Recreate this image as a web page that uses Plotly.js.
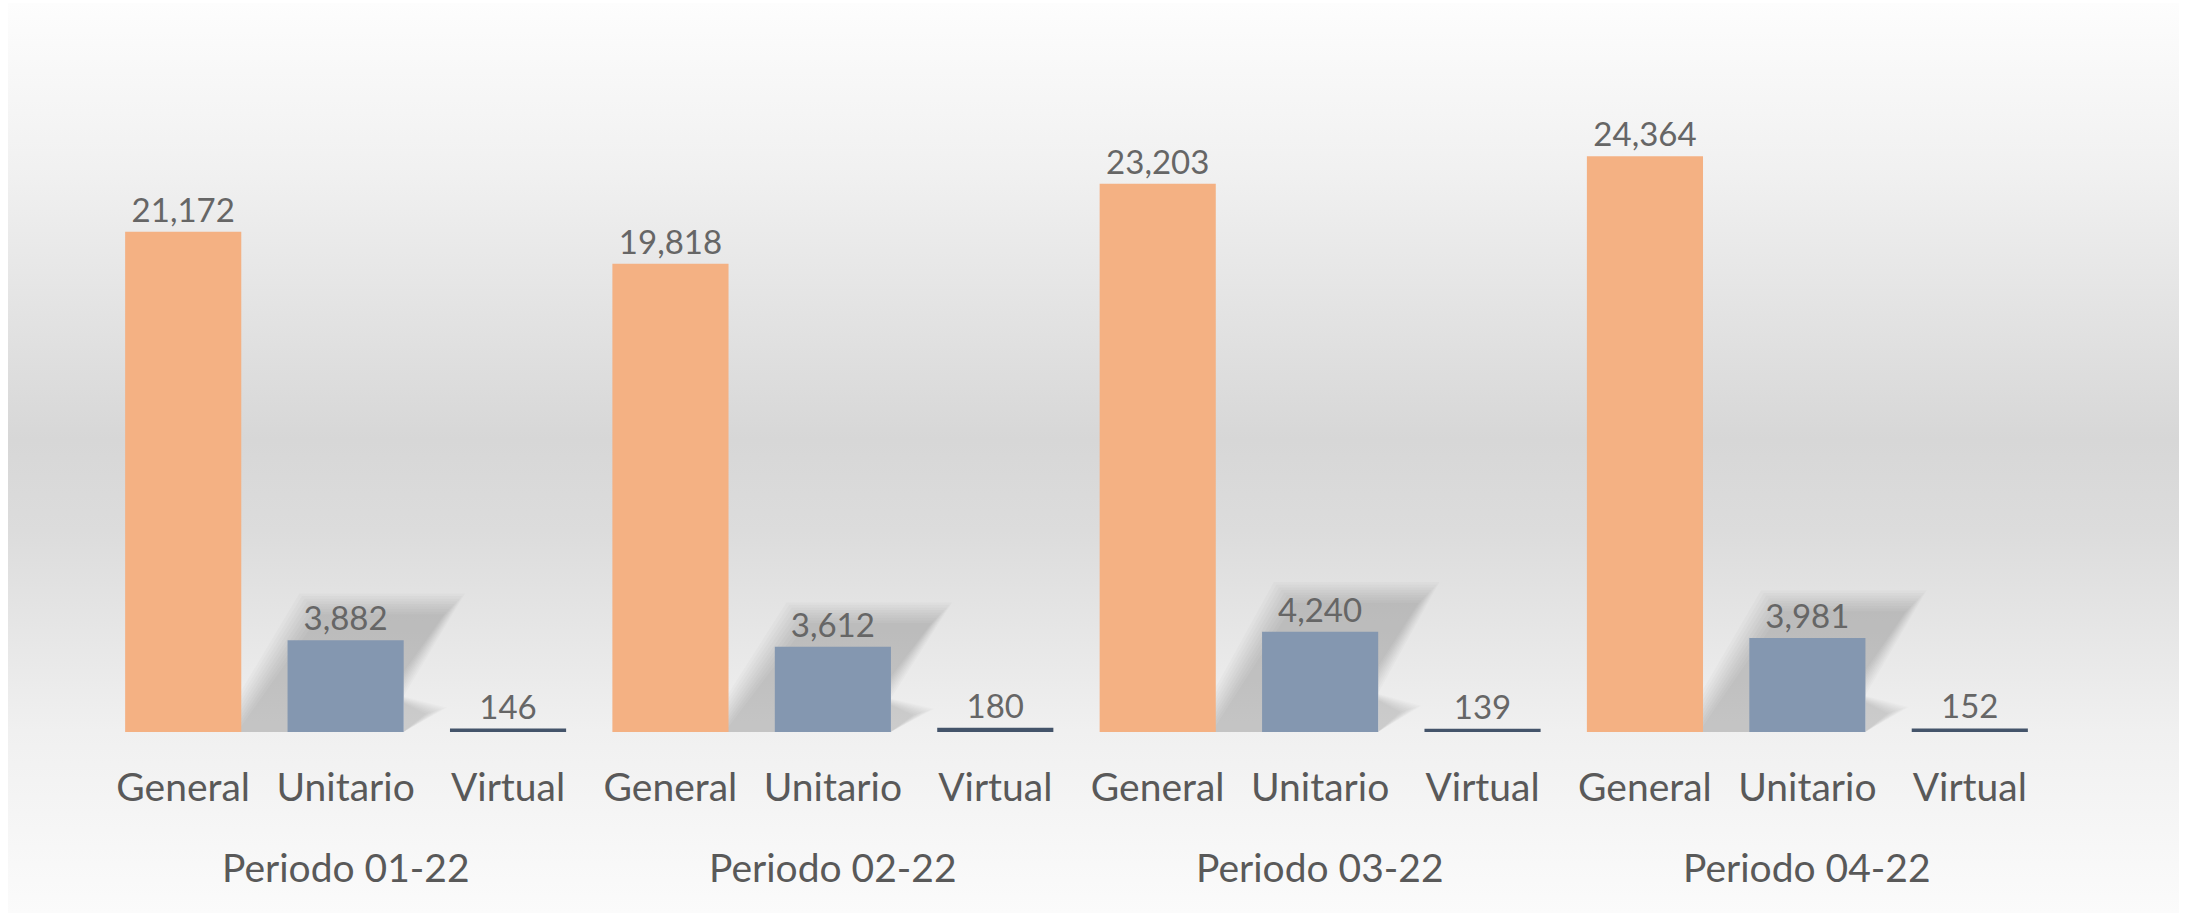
<!DOCTYPE html>
<html>
<head>
<meta charset="utf-8">
<script src="https://cdn.plot.ly/plotly-3.0.1.min.js"></script>
<style>
  html, body { margin: 0; padding: 0; background: #ffffff; }
  #wrap { position: relative; width: 2189px; height: 919px; }
  #bg { position: absolute; left: 8px; top: 3px; width: 2171px; height: 910px;
        background: linear-gradient(to bottom, #fdfdfd 0%, #f1f1f1 18%, #d7d7d7 48%, #dcdcdc 58%, #f0f0f0 80%, #fbfbfb 100%); }
  #chart { position: absolute; left: 0; top: 0; width: 2189px; height: 919px; }
</style>
</head>
<body>
<div id="wrap">
  <div id="bg"></div>
  <div id="chart"></div>
</div>
<script>
// ---- data ----
const periods = ['Periodo 01-22', 'Periodo 02-22', 'Periodo 03-22', 'Periodo 04-22'];
const types = ['General', 'Unitario', 'Virtual'];
const general = [21172, 19818, 23203, 24364];
const unitario = [3882, 3612, 4240, 3981];
const virtual = [146, 180, 139, 152];

// ---- styling ----
const colGeneral = '#F4B183';
const colUnitario = '#8497B0';
const colVirtual = '#44546A';
const fontFam = 'Lato, "Open Sans", sans-serif';
const textCol = '#595959';
const labelCol = '#666666';
const barW = 0.715;

function xpos(typeIdx) { return periods.map((p, g) => g * types.length + typeIdx); }

const seriesVals = [general, unitario, virtual];
const seriesCols = [colGeneral, colUnitario, colVirtual];

const traces = types.map((t, k) => ({
  type: 'bar',
  name: t,
  x: xpos(k),
  y: seriesVals[k],
  width: barW,
  marker: { color: seriesCols[k], line: { width: 0 } },
  text: seriesVals[k].map(v => v.toLocaleString('en-US')),
  textposition: 'outside',
  textfont: { family: fontFam, size: 33, color: labelCol },
  cliponaxis: false,
  hoverinfo: 'skip'
}));

// tick labels
const tickvals = [], ticktext = [];
periods.forEach((p, g) => types.forEach((t, k) => { tickvals.push(g * types.length + k); ticktext.push(t); }));

// period annotations
const annotations = periods.map((p, g) => ({
  text: p, x: g * types.length + 1, xref: 'x', y: -0.19, yref: 'paper',
  xanchor: 'center', yanchor: 'middle', showarrow: false,
  font: { family: fontFam, size: 39, color: textCol }
}));

// soft perspective shadows behind the Unitario bars (built from the data)
const shapes = [];
const layers = 9;
unitario.forEach((v, g) => {
  const xc = g * types.length + 1;
  const L = xc - barW / 2, R = xc + barW / 2;
  for (let i = 0; i < layers; i++) {
    const e = (layers - 1 - i) * 0.016;
    const ey = (layers - 1 - i) * 110;
    const top = v * 1.36 + ey - 300;
    const path = `M ${L - 0.31 - e},0 L ${L + 0.2 - e},${top} L ${R + 0.25 + e},${top} L ${R - 0.26 + e},0 Z`;
    shapes.push({ type: 'path', xref: 'x', yref: 'y', path: path, layer: 'below',
      fillcolor: 'rgba(0,0,0,0.021)', line: { width: 0 } });
    const tail = `M ${R},0 L ${R + 0.14 + e},${v * 0.2 + ey * 0.3} L ${R},${v * 0.32 + ey * 0.3} Z`;
    shapes.push({ type: 'path', xref: 'x', yref: 'y', path: tail, layer: 'below',
      fillcolor: 'rgba(0,0,0,0.014)', line: { width: 0 } });
  }
});

const layout = {
  width: 2189, height: 919,
  margin: { l: 102, r: 138, t: 23, b: 187, pad: 0 },
  paper_bgcolor: 'rgba(0,0,0,0)',
  plot_bgcolor: 'rgba(0,0,0,0)',
  barmode: 'overlay',
  showlegend: false,
  xaxis: {
    type: 'linear', range: [-0.5, tickvals.length - 0.5],
    tickmode: 'array', tickvals: tickvals, ticktext: ticktext,
    ticks: '', showgrid: false, zeroline: false, showline: false,
    ticklabelstandoff: 29,
    tickfont: { family: fontFam, size: 39, color: textCol },
    fixedrange: true
  },
  yaxis: {
    range: [0, 30000], visible: false, showgrid: false, zeroline: false, fixedrange: true
  },
  annotations: annotations,
  shapes: shapes,
  font: { family: fontFam, color: textCol }
};

Plotly.newPlot('chart', traces, layout, { displayModeBar: false, staticPlot: true });
</script>
</body>
</html>
